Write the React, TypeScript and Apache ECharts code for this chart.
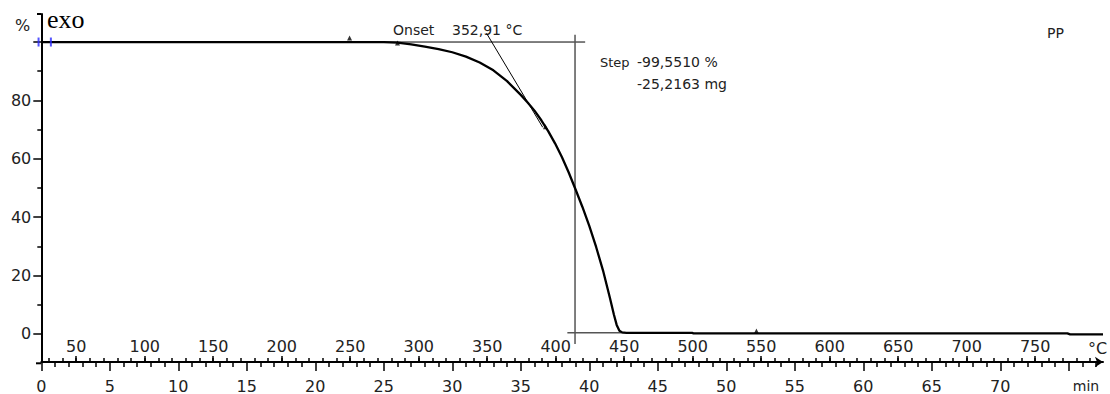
import React, { useEffect, useRef } from "react";
import * as echarts from "echarts";

// Mass curve (time in min, mass in %)
const curveTime = [0, 24, 25, 26, 27, 28, 29, 30, 31, 32, 33, 34, 35, 35.5, 36, 36.5, 37, 37.5, 38, 38.5, 39, 39.5, 40, 40.5, 41, 41.5, 41.8, 42.0, 42.2, 42.4, 42.7, 47.5, 47.6, 74.9, 75.1, 77.5];
const curveMass = [100, 100, 99.95, 99.8, 99.2, 98.4, 97.6, 96.5, 95.0, 93.0, 90.3, 86.6, 81.9, 79.3, 76.5, 73.2, 69.5, 65.3, 60.6, 55.3, 49.5, 43.5, 37.0, 29.8, 21.8, 12.5, 6.6, 3.1, 1.1, 0.55, 0.4, 0.4, 0.2, 0.2, -0.15, -0.15];

// Evaluation construction lines
const onsetBaseTime = [0, 39.7];
const onsetBaseMass = [100, 100];
const tangentTime = [32.5, 36.6];
const tangentMass = [103.0, 70.8];
const stepLineTime = [38.96, 38.96];
const stepLineMass = [102.5, -3.4];
const lowerBaseTime = [38.4, 42.6];
const lowerBaseMass = [0.4, 0.4];

// small curve markers
const markerTime = [22.5, 26.0, 36.8, 52.2];
const markerMass = [101.4, 99.7, 71.0, 1.0];
const blueMarkTime = [-0.2, 0.7];
const blueMarkMass = [100, 100];

// Axis ticks / labels
const minTickLabels = [0, 5, 10, 15, 20, 25, 30, 35, 40, 45, 50, 55, 60, 65, 70];
const minMajorTicks = [0, 5, 10, 15, 20, 25, 30, 35, 40, 45, 50, 55, 60, 65, 70, 75];
const minMinorTicks = Array.from({ length: 78 }, (_, i) => i).filter((v) => v % 5 !== 0);
const tempLabels = [50, 100, 150, 200, 250, 300, 350, 400, 450, 500, 550, 600, 650, 700, 750];
const tempTicks = Array.from({ length: 77 }, (_, i) => 30 + i * 10);
const yTickLabels = [0, 20, 40, 60, 80];
const yMajorTicks = [0, 20, 40, 60, 80, 100];
const yMinorTicks = [10, 30, 50, 70, 90];

const TIME_MIN = 0;
const TIME_MAX = 77.5;
const TEMP_MIN = 24.5;
const TEMP_MAX = 799.5;
const Y_MIN = -9.6;
const Y_MAX = 109.6;

const FONT = "DejaVu Sans";
const TXT = "#222";

function pairs(xs: number[], ys: number[]) {
  return xs.map((x, i) => [x, ys[i]]);
}

export default function App() {
  const ref = useRef<HTMLDivElement>(null);
  useEffect(() => {
    if (!ref.current) return;
    const chart = echarts.init(ref.current, undefined, { renderer: "svg" });
    const hidden = { show: false };
    const hiddenLine = { show: false, onZero: false };
    const option: any = {
      animation: false,
      backgroundColor: "#fff",
      grid: { left: 41.3, right: 7, top: 14, bottom: 30.7 },
      xAxis: [
        {
          type: "value",
          position: "bottom",
          min: TIME_MIN,
          max: TIME_MAX,
          axisLine: {
            show: true,
            onZero: false,
            symbol: ["none", "arrow"],
            symbolSize: [8, 8],
            lineStyle: { color: "#000", width: 2 },
          },
          axisTick: {
            show: true,
            customValues: minMajorTicks,
            length: 9,
            lineStyle: { color: "#000", width: 1.5 },
          },
          axisLabel: {
            customValues: minTickLabels,
            margin: 16,
            fontFamily: FONT,
            fontSize: 16,
            color: TXT,
          },
          splitLine: hidden,
        },
        {
          type: "value",
          position: "bottom",
          min: TIME_MIN,
          max: TIME_MAX,
          axisLine: hiddenLine,
          axisTick: {
            show: true,
            customValues: minMinorTicks,
            length: 5,
            lineStyle: { color: "#000", width: 1.5 },
          },
          axisLabel: hidden,
          splitLine: hidden,
        },
        {
          type: "value",
          position: "bottom",
          min: TEMP_MIN,
          max: TEMP_MAX,
          axisLine: hiddenLine,
          axisTick: {
            show: true,
            inside: true,
            customValues: tempTicks,
            length: 4,
            lineStyle: { color: "#000", width: 1.5 },
          },
          axisLabel: {
            inside: true,
            customValues: tempLabels,
            margin: 8,
            fontFamily: FONT,
            fontSize: 16,
            color: TXT,
          },
          splitLine: hidden,
        },
        {
          type: "value",
          position: "bottom",
          min: TEMP_MIN,
          max: TEMP_MAX,
          axisLine: hiddenLine,
          axisTick: {
            show: true,
            inside: true,
            customValues: tempLabels,
            length: 6,
            lineStyle: { color: "#000", width: 1.5 },
          },
          axisLabel: hidden,
          splitLine: hidden,
        },
      ],
      yAxis: [
        {
          type: "value",
          position: "left",
          min: Y_MIN,
          max: Y_MAX,
          axisLine: { show: true, onZero: false, lineStyle: { color: "#000", width: 2 } },
          axisTick: {
            show: true,
            customValues: yMajorTicks,
            length: 8,
            lineStyle: { color: "#000", width: 1.5 },
          },
          axisLabel: {
            customValues: yTickLabels,
            margin: 10,
            fontFamily: FONT,
            fontSize: 16,
            color: TXT,
          },
          splitLine: hidden,
        },
        {
          type: "value",
          position: "left",
          min: Y_MIN,
          max: Y_MAX,
          axisLine: hiddenLine,
          axisTick: {
            show: true,
            customValues: yMinorTicks,
            length: 4,
            lineStyle: { color: "#000", width: 1.5 },
          },
          axisLabel: hidden,
          splitLine: hidden,
        },
      ],
      series: [
        {
          type: "line",
          data: pairs(onsetBaseTime, onsetBaseMass),
          showSymbol: false,
          lineStyle: { color: "#000", width: 1 },
          z: 3,
        },
        {
          type: "line",
          data: pairs(tangentTime, tangentMass),
          showSymbol: false,
          lineStyle: { color: "#000", width: 1 },
          z: 3,
        },
        {
          type: "line",
          data: pairs(stepLineTime, stepLineMass),
          showSymbol: false,
          lineStyle: { color: "#555", width: 1.5 },
          z: 3,
        },
        {
          type: "line",
          data: pairs(lowerBaseTime, lowerBaseMass),
          showSymbol: false,
          lineStyle: { color: "#555", width: 1.5 },
          z: 3,
        },
        {
          type: "line",
          data: pairs(curveTime, curveMass),
          showSymbol: false,
          lineStyle: { color: "#000", width: 2.3, join: "round" },
          z: 5,
        },
        {
          type: "scatter",
          data: pairs(markerTime, markerMass),
          symbol: "triangle",
          symbolSize: 5,
          itemStyle: { color: "#000" },
          z: 6,
        },
        {
          type: "scatter",
          data: pairs(blueMarkTime, blueMarkMass),
          symbol: "rect",
          symbolSize: [2, 9],
          clip: false,
          itemStyle: { color: "#2a2aff" },
          z: 6,
        },
      ],
      graphic: [
        { type: "line", shape: { x1: 37, y1: 14, x2: 41.3, y2: 14 }, style: { stroke: "#000", lineWidth: 2 } },
        { type: "line", shape: { x1: 36, y1: 363.3, x2: 41.3, y2: 363.3 }, style: { stroke: "#000", lineWidth: 2 } },
        { type: "text", x: 15, y: 25, style: { text: "%", font: `16px '${FONT}'`, fill: TXT, verticalAlign: "middle" } },
        { type: "text", x: 47, y: 19, style: { text: "exo", font: "26px 'Liberation Serif'", fill: "#000", verticalAlign: "middle" } },
        { type: "text", x: 393, y: 30, style: { text: "Onset", font: `14px '${FONT}'`, fill: TXT, verticalAlign: "middle" } },
        { type: "text", x: 452, y: 30, style: { text: "352,91 °C", font: `14px '${FONT}'`, fill: TXT, verticalAlign: "middle" } },
        { type: "text", x: 600, y: 62, style: { text: "Step", font: `13px '${FONT}'`, fill: TXT, verticalAlign: "middle" } },
        { type: "text", x: 637, y: 62, style: { text: "-99,5510 %", font: `14px '${FONT}'`, fill: TXT, verticalAlign: "middle" } },
        { type: "text", x: 637, y: 83.5, style: { text: "-25,2163 mg", font: `14px '${FONT}'`, fill: TXT, verticalAlign: "middle" } },
        { type: "text", x: 1047, y: 33, style: { text: "PP", font: `14px '${FONT}'`, fill: TXT, verticalAlign: "middle" } },
        { type: "text", x: 1086, y: 385.5, style: { text: "min", font: `14px '${FONT}'`, fill: TXT, align: "center", verticalAlign: "middle" } },
        { type: "text", x: 1088, y: 348, style: { text: "°C", font: `16px '${FONT}'`, fill: TXT, verticalAlign: "middle" } },
      ],
    };
    chart.setOption(option);
    return () => chart.dispose();
  }, []);
  return (
    <div
      ref={ref}
      style={{ position: "fixed", left: 0, top: 0, width: 1110, height: 394, background: "#fff" }}
    />
  );
}
